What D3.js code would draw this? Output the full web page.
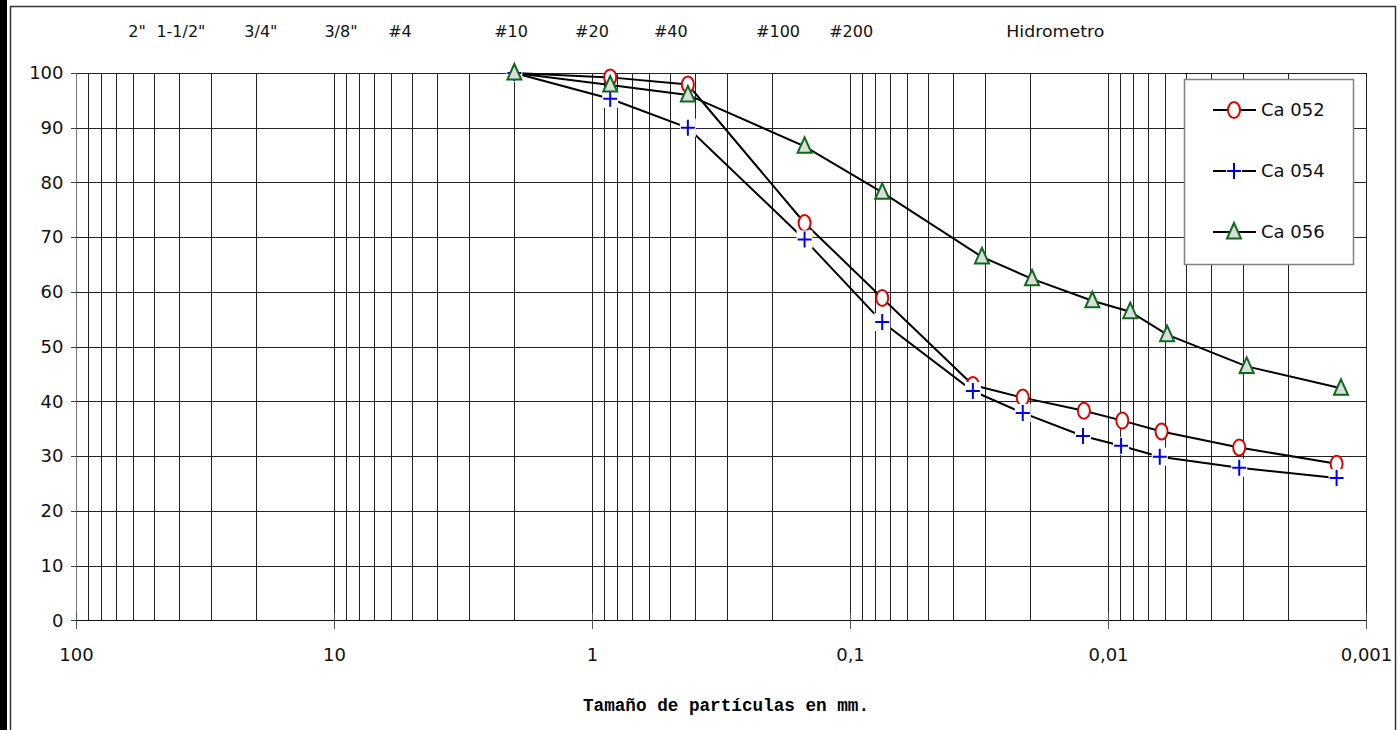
<!DOCTYPE html>
<html>
<head>
<meta charset="utf-8">
<script src="https://cdn.jsdelivr.net/npm/d3@7"></script>
<style>
  body { margin: 0; background: #fff; }
  svg { display: block; }
</style>
</head>
<body>
<svg id="chart" width="1400" height="730"></svg>
<script>
// Grain-size distribution curves (sieve + hydrometer)
const seriesNames = ["Ca 052", "Ca 054", "Ca 056"];

// particle diameter (mm) and percent passing
const ca052Diam = [2.0, 0.85, 0.425, 0.15, 0.075, 0.0334, 0.0214, 0.0124, 0.0088, 0.0062, 0.0031, 0.0013];
const ca052Pass = [100, 99.2, 97.9, 72.6, 58.9, 43.0, 40.7, 38.3, 36.5, 34.5, 31.6, 28.6];

const ca054Diam = [2.0, 0.85, 0.425, 0.15, 0.075, 0.0334, 0.0214, 0.0125, 0.0089, 0.0063, 0.0031, 0.0013];
const ca054Pass = [100, 95.3, 90.0, 69.6, 54.5, 41.9, 37.9, 33.7, 31.9, 29.9, 27.9, 26.0];

const ca056Diam = [2.0, 0.85, 0.425, 0.15, 0.075, 0.0308, 0.0197, 0.0115, 0.0082, 0.0059, 0.0029, 0.00125];
const ca056Pass = [100, 97.8, 96.0, 86.6, 78.2, 66.4, 62.4, 58.4, 56.4, 52.2, 46.4, 42.4];

// sieve designations along the top, anchored at a diameter (mm)
const sieveLabels = ['2"', '1-1/2"', '3/4"', '3/8"', '#4', '#10', '#20', '#40', '#100', '#200', 'Hidrometro'];
const sieveLabelAt = [58, 39.2, 19.2, 9.4, 5.55, 2.06, 1.0, 0.495, 0.19, 0.099, 0.016];

const xDecades = [100, 10, 1, 0.1, 0.01, 0.001];
const xDecadeLabels = ["100", "10", "1", "0,1", "0,01", "0,001"];
const yTicks = [0, 10, 20, 30, 40, 50, 60, 70, 80, 90, 100];
const xTitle = "Tamaño de partículas en mm.";

const svg = d3.select("#chart");
const W = 1400, H = 730;
const plot = { left: 76, right: 1366, top: 73, bottom: 620.4 };

const x = d3.scaleLog().domain([100, 0.001]).range([plot.left, plot.right]);
const y = d3.scaleLinear().domain([0, 100]).range([plot.bottom, plot.top]);

// page frame
svg.append("rect").attr("x", 0).attr("y", 0).attr("width", W).attr("height", H).attr("fill", "#fff");
svg.append("rect").attr("x", 0).attr("y", 0).attr("width", 7).attr("height", H).attr("fill", "#000");
svg.append("rect").attr("x", 10.5).attr("y", 6.5).attr("width", 1385).attr("height", 800)
  .attr("fill", "none").attr("stroke", "#333").attr("stroke-width", 1.5);

// grid
const grid = svg.append("g").attr("shape-rendering", "crispEdges");
grid.selectAll("line.v").data(x.ticks()).join("line")
  .attr("class", "v")
  .attr("x1", d => Math.round(x(d)) + 0.5).attr("x2", d => Math.round(x(d)) + 0.5)
  .attr("y1", y(100)).attr("y2", y(0))
  .attr("stroke", d => d === 100 ? "#777" : "#222").attr("stroke-width", 1);
grid.selectAll("line.h").data(yTicks).join("line")
  .attr("class", "h")
  .attr("x1", plot.left).attr("x2", plot.right)
  .attr("y1", d => Math.round(y(d)) + 0.5).attr("y2", d => Math.round(y(d)) + 0.5)
  .attr("stroke", "#222").attr("stroke-width", 1);

// y axis
const yAxis = svg.append("g")
  .attr("transform", `translate(${Math.round(plot.left) + 0.5},0)`)
  .call(d3.axisLeft(y).tickValues(yTicks).tickSize(6).tickPadding(7).tickFormat(d3.format("d")));
yAxis.select(".domain").attr("stroke", "#777").attr("d", `M0,${y(100)}V${y(0) + 6}`);
yAxis.selectAll(".tick line").attr("stroke", "#444").attr("shape-rendering", "crispEdges");
yAxis.selectAll(".tick text").attr("font-family", "DejaVu Sans").attr("font-size", 18).attr("fill", "#111");

// x axis
const xAxis = svg.append("g")
  .attr("transform", `translate(0,${Math.round(plot.bottom) + 0.5})`)
  .call(d3.axisBottom(x).tickValues(xDecades).tickSize(8).tickPadding(20)
    .tickFormat((d, i) => xDecadeLabels[i]));
xAxis.select(".domain").attr("stroke", "#111").attr("d", `M${plot.left},0H${plot.right}`);
xAxis.selectAll(".tick line").attr("y1", -8).attr("y2", 8).attr("stroke", "#555").attr("shape-rendering", "crispEdges");
xAxis.selectAll(".tick text").attr("font-family", "DejaVu Sans").attr("font-size", 18).attr("fill", "#111");

// sieve labels on top
svg.append("g").selectAll("text").data(sieveLabels).join("text")
  .attr("x", (d, i) => x(sieveLabelAt[i]))
  .attr("y", 37)
  .attr("text-anchor", "middle")
  .attr("font-family", "DejaVu Sans")
  .attr("font-size", 16)
  .attr("fill", "#111")
  .each(function(d) {
    if (d === "Hidrometro") d3.select(this).attr("textLength", 98).attr("lengthAdjust", "spacingAndGlyphs");
  })
  .text(d => d);

// x title
svg.append("text")
  .attr("x", 583).attr("y", 711)
  .attr("font-family", "Liberation Mono").attr("font-weight", "bold").attr("font-size", 18)
  .attr("textLength", 286).attr("lengthAdjust", "spacingAndGlyphs")
  .attr("fill", "#000")
  .text(xTitle);

// series
const series = [
  { name: seriesNames[0], diam: ca052Diam, pass: ca052Pass, marker: "circle" },
  { name: seriesNames[1], diam: ca054Diam, pass: ca054Pass, marker: "cross" },
  { name: seriesNames[2], diam: ca056Diam, pass: ca056Pass, marker: "triangle" }
];

const line = d3.line().x(d => x(d[0])).y(d => y(d[1]));
const lines = svg.append("g");
series.forEach(s => {
  lines.append("path")
    .datum(s.diam.map((d, i) => [d, s.pass[i]]))
    .attr("d", line)
    .attr("fill", "none").attr("stroke", "#000").attr("stroke-width", 2);
});

function drawMarker(g, type) {
  if (type === "circle") {
    g.append("ellipse").attr("rx", 6).attr("ry", 8)
      .attr("fill", "#fff").attr("stroke", "#e00000").attr("stroke-width", 2);
  } else if (type === "cross") {
    g.append("rect").attr("x", -8).attr("y", -9).attr("width", 16).attr("height", 18).attr("fill", "#fff");
    g.append("path").attr("d", "M-7,0H7M0,-8V8")
      .attr("stroke", "#0000e8").attr("stroke-width", 2).attr("fill", "none");
  } else {
    g.append("path").attr("d", "M0,-9L7,6.5L-7,6.5Z")
      .attr("fill", "#dcdcdc").attr("stroke", "#0b6b1b").attr("stroke-width", 2)
      .attr("stroke-linejoin", "miter");
  }
}

const markers = svg.append("g");
series.forEach(s => {
  s.diam.forEach((d, i) => {
    const g = markers.append("g").attr("transform", `translate(${x(d)},${y(s.pass[i])})`);
    drawMarker(g, s.marker);
  });
});

// legend
const legend = svg.append("g");
legend.append("rect").attr("x", 1184.5).attr("y", 79.5).attr("width", 169).attr("height", 185)
  .attr("fill", "#fff").attr("stroke", "#808080").attr("stroke-width", 1.5);
const legendRows = [110, 171, 232];
series.forEach((s, i) => {
  const ry = legendRows[i];
  legend.append("line").attr("x1", 1213).attr("x2", 1256).attr("y1", ry).attr("y2", ry)
    .attr("stroke", "#000").attr("stroke-width", 2);
  drawMarker(legend.append("g").attr("transform", `translate(1234,${ry})`), s.marker);
  legend.append("text").attr("x", 1261).attr("y", ry).attr("dy", "0.35em")
    .attr("font-family", "DejaVu Sans").attr("font-size", 18).attr("fill", "#111")
    .text(s.name);
});
</script>
</body>
</html>
